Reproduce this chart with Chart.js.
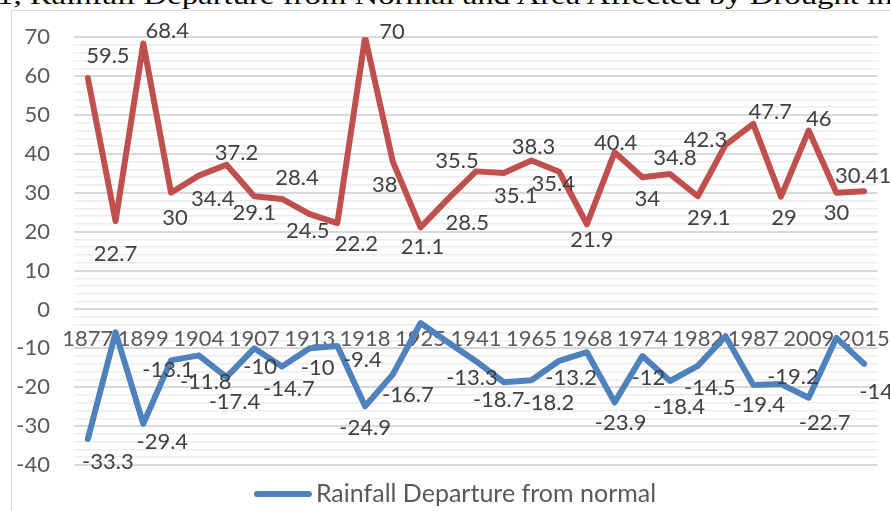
<!DOCTYPE html>
<html>
<head>
<meta charset="utf-8">
<script src="https://cdn.jsdelivr.net/npm/chart.js@4.4.1/dist/chart.umd.min.js"></script>
<style>
  html, body { margin: 0; padding: 0; background: #fff; overflow: hidden; }
  #wrap { position: relative; width: 890px; height: 511px; }
  #frame { position: absolute; left: 11px; top: 10px; right: -5px; bottom: -5px;
           border-left: 1px solid #d9d9d9; border-top: 1px solid #d9d9d9; }
  #title { position: absolute; left: -3px; top: -19px; white-space: nowrap;
           font-family: "Liberation Serif", "DejaVu Serif", serif; font-size: 26px;
           color: #000; transform-origin: 0 0; }
  canvas { position: absolute; left: 0; top: 0; }
</style>
</head>
<body>
<div id="wrap">
  <div id="frame"></div>
  <div id="title">1, Rainfall Departure from Normal and Area Affected by Drought in</div>
  <canvas id="myChart" width="890" height="511"></canvas>
</div>
<script>
// data
var years = ['1877', '1891', '1899', '1901', '1904', '1905', '1907', '1911', '1913', '1915',
  '1918', '1920', '1925', '1939', '1941', '1951', '1965', '1966', '1968', '1972',
  '1974', '1979', '1982', '1985', '1987', '2002', '2009', '2014', '2015'];
var areaAffected = [59.5, 22.7, 68.4, 30, 34.4, 37.2, 29.1, 28.4, 24.5, 22.2,
  70, 38, 21.1, 28.5, 35.5, 35.1, 38.3, 35.4, 21.9, 40.4,
  34, 34.8, 29.1, 42.3, 47.7, 29, 46, 30, 30.41];
var rainfallDeparture = [-33.3, -5.9, -29.4, -13.1, -11.8, -17.4, -10, -14.7, -10, -9.4,
  -24.9, -16.7, -3.5, -8.5, -13.3, -18.7, -18.2, -13.2, -11, -23.9,
  -12, -18.4, -14.5, -6.9, -19.4, -19.2, -22.7, -7.3, -14];

// label offsets from the point (px), null = no label
var areaLabelPos = [[20,-22],[0,33],[24,-13],[4,25],[14,23],[10,-12],[0,17],[15,-21],[-2,17],[19,21],
  [27,-5],[-8,23],[2,20],[19,24],[-19,-10],[12,23],[2,-14],[-6,12],[5,16],[1,-9],
  [5,22],[5,-16],[11,22],[-20,-5],[17,-12],[3,21],[10,-12],[0,20],[-1,-15]];
var rainLabelPos = [[20,23],null,[19,18],[-3,10],[7,27],[8,25],[6,19],[7,22],[8,20],[25,14],
  [0,22],[15,21],null,null,[-4,17],[-5,18],[17,23],[12,17],null,[6,21],
  [6,22],[9,26],[12,22],null,[6,20],[12,-7],[16,25],null,[12,28]];

var RED = '#C0504D';
var BLUE = '#4F81BD';
var FONT = 'Lato, "Open Sans", sans-serif';

// title fits the page width
var t = document.getElementById('title');
t.style.transform = 'scaleX(' + (896 / t.offsetWidth) + ')';

var valueLabels = {
  id: 'valueLabels',
  afterDatasetsDraw: function(chart) {
    var c = chart.ctx;
    c.save();
    c.font = '22px ' + FONT;
    c.fillStyle = '#404040';
    c.textAlign = 'center';
    c.textBaseline = 'middle';
    chart.data.datasets.forEach(function(ds, di) {
      var meta = chart.getDatasetMeta(di);
      meta.data.forEach(function(pt, i) {
        var off = ds.labelPos[i];
        if (!off) return;
        c.fillText(String(ds.data[i]), pt.x + off[0], pt.y + off[1]);
      });
    });
    c.restore();
  }
};

// legend shows the rainfall series only, like the source
var bottomLegend = {
  id: 'bottomLegend',
  afterDraw: function(chart) {
    var c = chart.ctx;
    var ds = chart.data.datasets[1];
    c.save();
    c.font = '25px ' + FONT;
    var tw = c.measureText(ds.label).width;
    var total = 58 + 4 + tw;
    var x0 = (chart.width - total) / 2 + 10;
    var y = chart.chartArea.bottom + 29;
    c.strokeStyle = ds.borderColor;
    c.lineWidth = 6;
    c.lineCap = 'round';
    c.beginPath();
    c.moveTo(x0 + 3, y);
    c.lineTo(x0 + 55, y);
    c.stroke();
    c.fillStyle = '#595959';
    c.textAlign = 'left';
    c.textBaseline = 'middle';
    c.fillText(ds.label, x0 + 62, y);
    c.restore();
  }
};

var ctx = document.getElementById('myChart').getContext('2d');

// eslint-disable-next-line no-unused-vars
var chart = new Chart(ctx, {
  type: 'line',
  data: {
    labels: years,
    datasets: [{
      label: 'Area Affected by Drought',
      data: areaAffected,
      labelPos: areaLabelPos,
      borderColor: RED,
      backgroundColor: RED,
      borderWidth: 6,
      pointRadius: 0,
      borderCapStyle: 'round',
      borderJoinStyle: 'round',
      tension: 0
    },
    {
      label: 'Rainfall Departure from normal',
      data: rainfallDeparture,
      labelPos: rainLabelPos,
      borderColor: BLUE,
      backgroundColor: BLUE,
      borderWidth: 6,
      pointRadius: 0,
      borderCapStyle: 'round',
      borderJoinStyle: 'round',
      tension: 0
    }]
  },
  options: {
    responsive: false,
    animation: false,
    layout: { padding: { top: 33, right: 12, left: 0, bottom: 46 } },
    plugins: {
      tooltip: { enabled: false },
      legend: { display: false }
    },
    scales: {
      x: {
        position: { y: 0 },
        offset: true,
        afterFit: function(scale) { scale.paddingLeft = 0; scale.paddingRight = 0; },
        grid: { display: false },
        border: { display: false },
        ticks: {
          autoSkip: false,
          maxRotation: 0,
          padding: 8,
          color: '#595959',
          font: { family: FONT, size: 22 },
          callback: function(v, i) { return i % 2 === 0 ? this.getLabelForValue(v) : ''; }
        }
      },
      y: {
        min: -40,
        max: 70,
        afterFit: function(scale) { scale.width = 74; },
        border: { display: false },
        grid: {
          drawTicks: false,
          color: function(c) { return c.tick && c.tick.value % 10 === 0 ? '#d9d9d9' : '#ededed'; },
          lineWidth: function(c) { return c.tick && c.tick.value % 10 === 0 ? 2 : 1.5; }
        },
        ticks: {
          stepSize: 2,
          maxTicksLimit: 100,
          autoSkip: false,
          padding: 24,
          color: '#595959',
          font: { family: FONT, size: 22 },
          callback: function(v) { return v % 10 === 0 ? v : ''; }
        }
      }
    }
  },
  plugins: [valueLabels, bottomLegend]
});
</script>
</body>
</html>
